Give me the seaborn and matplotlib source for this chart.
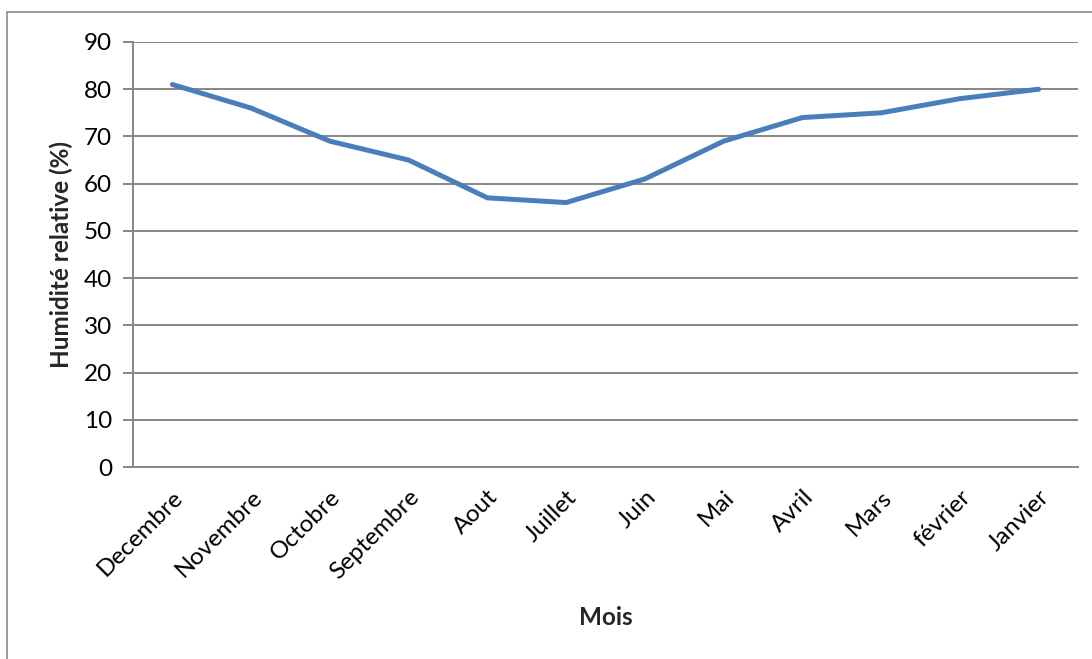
import matplotlib
matplotlib.use("Agg")
import matplotlib.pyplot as plt
import seaborn as sns
import pandas as pd
from matplotlib.patches import Rectangle

mois = ["Decembre", "Novembre", "Octobre", "Septembre", "Aout", "Juillet",
        "Juin", "Mai", "Avril", "Mars", "février", "Janvier"]
humidite = [81, 76, 69, 65, 57, 56, 61, 69, 74, 75, 78, 80]
y_ticks = [0, 10, 20, 30, 40, 50, 60, 70, 80, 90]

sns.set_theme(style="white")
plt.rcParams['font.family'] = ['Lato', 'DejaVu Sans']

df = pd.DataFrame({"Mois": mois, "Humidite": humidite, "pos": range(len(mois))})

fig = plt.figure(figsize=(10.92, 6.59), dpi=100)
ax = fig.add_axes([133/1092, 1-467/659, (1078-133)/1092, (467-42)/659])

# outer frame
fig.patches.append(Rectangle((7/1092, -0.05), 1.2, 1-12/659+0.05,
                             transform=fig.transFigure, fill=False,
                             edgecolor="#8c8c8c", linewidth=1.2))

grid_c = "#868686"
for v in y_ticks[1:]:
    ax.axhline(v, color=grid_c, linewidth=1.4, zorder=1)

sns.lineplot(data=df, x="pos", y="Humidite", ax=ax, color="#4a7ebb",
             linewidth=3.6, zorder=3, solid_capstyle="round")

ax.set_xlim(-0.5, len(mois) - 0.5)
ax.set_ylim(0, 90)
ax.set_yticks(y_ticks)
ax.set_yticklabels([str(v) for v in y_ticks], fontsize=17.5)
ax.set_xticks(range(len(mois)))
ax.set_xticklabels(mois, rotation=45, ha="right", rotation_mode="anchor",
                   fontsize=17.5)

for s in ["top", "right"]:
    ax.spines[s].set_visible(False)
for s in ["left", "bottom"]:
    ax.spines[s].set_color(grid_c)
    ax.spines[s].set_linewidth(1.4)

ax.tick_params(axis="y", which="both", left=True, length=7, width=1.4,
               color=grid_c, pad=8, labelcolor="black")
ax.tick_params(axis="x", which="both", bottom=False, pad=8, labelcolor="black")

ax.set_xlabel("Mois", fontsize=17.5, fontweight="bold", labelpad=16)
ax.set_ylabel("Humidité relative (%)", fontsize=17.5, fontweight="bold", labelpad=8)

fig.savefig("out.png", dpi=100)
